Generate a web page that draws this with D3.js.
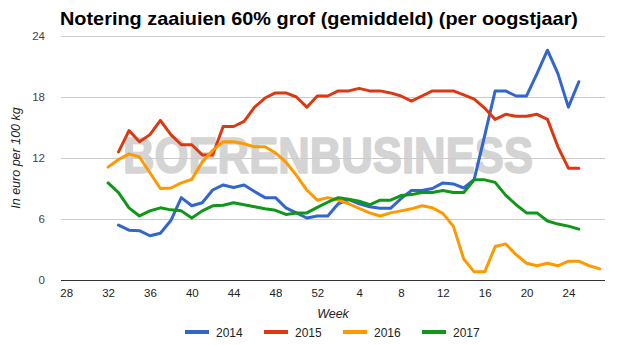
<!DOCTYPE html>
<html><head><meta charset="utf-8">
<script src="https://cdn.jsdelivr.net/npm/d3@7"></script>
<style>html,body{margin:0;padding:0;background:#fff;}svg{display:block;}</style>
</head><body>
<script>
const titleText = "Notering zaaiuien 60% grof (gemiddeld) (per oogstjaar)";
const yTitle = "In euro per 100 kg";
const xTitle = "Week";
const watermark = "BOERENBUSINESS";
const weeks = ["28","29","30","31","32","33","34","35","36","37","38","39","40","41","42","43","44","45","46","47","48","49","50","51","52",
  "1","2","3","4","5","6","7","8","9","10","11","12","13","14","15","16","17","18","19","20","21","22","23","24","25","26","27"];
const xTickLabels = ["28","32","36","40","44","48","52","4","8","12","16","20","24"];
const yTicks = [0,6,12,18,24];
const seriesNames = ["2014","2015","2016","2017"];
const seriesColors = ["#3366cc","#dc3912","#ff9900","#109618"];
const v2014 = [null,null,null,null,null,
  5.4,4.9,4.85,4.35,4.6,5.85,8.1,7.3,7.6,8.85,9.35,9.1,9.35,8.7,8.1,8.1,7.1,6.6,6.1,6.3,
  6.3,7.5,7.9,7.5,7.2,7.05,7.05,8.0,8.8,8.8,9.0,9.55,9.45,9.05,9.9,14.2,18.6,18.6,18.1,18.1,20.3,22.6,20.3,17.0,19.5,
  null,null];
const v2015 = [null,null,null,null,null,
  12.6,14.7,13.6,14.3,15.7,14.3,13.3,13.3,12.3,12.3,15.1,15.1,15.6,17.0,17.9,18.4,18.4,18.0,17.0,18.1,
  18.1,18.6,18.6,18.85,18.6,18.6,18.4,18.1,17.6,18.1,18.6,18.6,18.6,18.2,17.8,16.9,15.8,16.3,16.1,16.1,16.3,15.8,13.1,11.0,11.0,
  null,null];
const v2016 = [null,null,null,null,
  11.1,11.85,12.4,12.1,10.55,9.0,9.05,9.55,9.9,11.6,12.75,13.6,13.6,13.4,13.1,13.1,12.5,11.6,10.3,8.85,7.85,
  8.1,7.87,7.5,7.05,6.6,6.3,6.6,6.8,7.0,7.3,7.1,6.55,5.3,2.05,0.8,0.8,3.3,3.55,2.5,1.65,1.4,1.65,1.4,1.85,1.85,1.4,1.1];
const v2017 = [null,null,null,null,
  9.55,8.6,7.1,6.3,6.8,7.1,6.9,6.8,6.1,6.8,7.3,7.35,7.6,7.4,7.2,7.0,6.85,6.45,6.6,6.6,7.15,
  7.65,8.1,7.95,7.75,7.4,7.85,7.85,8.3,8.4,8.6,8.6,8.8,8.6,8.6,9.85,9.85,9.6,8.35,7.4,6.6,6.6,5.8,5.5,5.3,5.0,
  null,null];
const seriesValues = [v2014, v2015, v2016, v2017];

const W = 620, H = 345;
const plot = {left: 61, right: 605, top: 36, bottom: 280};
const svg = d3.select("body").append("svg").attr("width", W).attr("height", H);

const x = d3.scalePoint().domain(weeks).range([plot.left, plot.right]).padding(0.5);
const y = d3.scaleLinear().domain([0, 24]).range([plot.bottom, plot.top]);

// title
svg.append("text").attr("x", 60).attr("y", 25)
  .attr("font-family", "'Liberation Sans', Arial, sans-serif").attr("font-weight", "bold")
  .attr("font-size", 19).attr("fill", "#000")
  .attr("textLength", 518).attr("lengthAdjust", "spacingAndGlyphs")
  .text(titleText);

// watermark
svg.append("text").attr("x", 123).attr("y", 172.5)
  .attr("font-family", "'Liberation Sans', Arial, sans-serif").attr("font-weight", "bold")
  .attr("font-size", 50).attr("fill", "#d4d4d4").attr("stroke", "#d4d4d4").attr("stroke-width", 1.6)
  .attr("stroke-linejoin", "round")
  .attr("textLength", 410).attr("lengthAdjust", "spacingAndGlyphs")
  .text(watermark);

// grid
const yAxis = d3.axisLeft(y).tickValues(yTicks).tickSize(-(plot.right - plot.left)).tickPadding(16);
const gy = svg.append("g").attr("transform", `translate(${plot.left},0)`).call(yAxis);
gy.select(".domain").remove();
gy.selectAll(".tick line").attr("stroke", d => d === 0 ? "#333" : "#cccccc").attr("stroke-width", 1)
  .attr("shape-rendering", "crispEdges");
gy.selectAll(".tick text").attr("font-family", "'Liberation Sans', Arial, sans-serif")
  .attr("font-size", 11.5).attr("fill", "#444");

// x axis labels
const xAxis = d3.axisBottom(x).tickValues(xTickLabels).tickSize(0).tickPadding(9);
const gx = svg.append("g").attr("transform", `translate(0,${plot.bottom})`).call(xAxis);
gx.select(".domain").remove();
gx.selectAll(".tick text").attr("font-family", "'Liberation Sans', Arial, sans-serif")
  .attr("font-size", 11.5).attr("fill", "#222");

// axis titles
svg.append("text").attr("x", (plot.left + plot.right) / 2).attr("y", 318)
  .attr("text-anchor", "middle").attr("font-family", "'Liberation Sans', Arial, sans-serif")
  .attr("font-style", "italic").attr("font-size", 12.5).attr("fill", "#222").text(xTitle);
svg.append("text").attr("transform", `translate(20,${(plot.top + plot.bottom) / 2}) rotate(-90)`)
  .attr("text-anchor", "middle").attr("font-family", "'Liberation Sans', Arial, sans-serif")
  .attr("font-style", "italic").attr("font-size", 12.5).attr("fill", "#222").text(yTitle);

// lines
const line = d3.line().defined(d => d.v !== null).x(d => x(d.w)).y(d => y(d.v));
seriesValues.forEach((vals, i) => {
  const data = weeks.map((w, j) => ({w, v: vals[j]}));
  svg.append("path").datum(data).attr("d", line).attr("fill", "none")
    .attr("stroke", seriesColors[i]).attr("stroke-width", 3)
    .attr("stroke-linejoin", "round").attr("stroke-linecap", "round");
});

// legend
const legendX = d3.scalePoint().domain(seriesNames).range([185, 422]);
const lg = svg.append("g");
seriesNames.forEach((n, i) => {
  const lx = legendX(n);
  lg.append("line").attr("x1", lx).attr("x2", lx + 24).attr("y1", 332).attr("y2", 332)
    .attr("stroke", seriesColors[i]).attr("stroke-width", 4);
  lg.append("text").attr("x", lx + 31).attr("y", 336.5)
    .attr("font-family", "'Liberation Sans', Arial, sans-serif").attr("font-size", 12)
    .attr("fill", "#222").text(n);
});
</script>
</body></html>
